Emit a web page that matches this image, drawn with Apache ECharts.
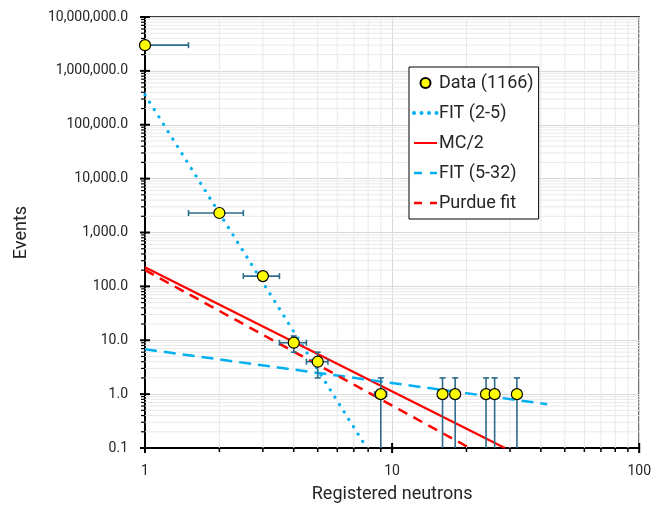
<!DOCTYPE html>
<html>
<head>
<meta charset="utf-8">
<script src="https://cdn.jsdelivr.net/npm/echarts@6/dist/echarts.min.js"></script>
<style>
html,body{margin:0;padding:0;background:#fff;}
#chart{width:654px;height:508px;}
</style>
</head>
<body>
<div id="chart"></div>
<script>
// ---- Data ----
const dataX = [1, 2, 3, 4, 5, 9, 16, 18, 24, 26, 32];
const dataY = [3000000, 2300, 155, 9, 4, 1, 1, 1, 1, 1, 1];
const xErrLow  = [0.5, 1.5, 2.5, 3.5, 4.5, 8.5, 15.5, 17.5, 23.5, 25.5, 31.5];
const xErrHigh = [1.5, 2.5, 3.5, 4.5, 5.5, 9.5, 16.5, 18.5, 24.5, 26.5, 32.5];
const yErrLow  = [2998000, 2252, 143, 6, 2, 0.01, 0.01, 0.01, 0.01, 0.01, 0.01];
const yErrHigh = [3002000, 2348, 167, 12, 6, 2, 2, 2, 2, 2, 2];

const fit25X = [1, 7.9];
const fit25Y = [360000, 0.1];
const mcX = [1, 28.6];
const mcY = [227, 0.1];
const fit532X = [1, 42.4];
const fit532Y = [6.8, 0.65];
const purdueX = [1, 20.6];
const purdueY = [200, 0.1];

const xMajorTicks = [1, 10, 100];
const yMajorTicks = [0.1, 1, 10, 100, 1000, 10000, 100000, 1000000, 10000000];
const minorMultipliers = [2, 3, 4, 5, 6, 7, 8, 9];
const xTickLabels = ['1', '10', '100'];

const seriesNames = ['Data (1166)', 'FIT (2-5)', 'MC/2', 'FIT (5-32)', 'Purdue fit'];

// ---- helpers ----
function pairs(xs, ys){ return xs.map((x,i)=>[x, ys[i]]); }
function fmtY(v){
  const s = Number(v).toFixed(1);
  const parts = s.split('.');
  return parts[0].replace(/\B(?=(\d{3})+(?!\d))/g, ',') + '.' + parts[1];
}
// axis decoration items: [xValue, yValue, kind] kind: 0 minorX, 1 minorY, 2 majorX, 3 majorY
const decor = [];
xMajorTicks.slice(0, -1).forEach(d => minorMultipliers.forEach(m => decor.push([d*m, 1, 0])));
yMajorTicks.slice(0, -1).forEach(d => minorMultipliers.forEach(m => decor.push([1, +(d*m).toPrecision(3), 1])));
xMajorTicks.forEach(v => decor.push([v, 1, 2]));
yMajorTicks.forEach(v => decor.push([1, v, 3]));

const errData = dataX.map((x,i)=>[x, dataY[i], xErrLow[i], xErrHigh[i], yErrLow[i], yErrHigh[i]]);

const FONT = 'Roboto, "Noto Sans", sans-serif';
const TXT = '#262626';
const chart = echarts.init(document.getElementById('chart'), null, {renderer:'canvas'});

const hiddenSym = {opacity: 0, borderWidth: 0};
const option = {
  animation: false,
  backgroundColor: '#fff',
  textStyle: {fontFamily: FONT},
  grid: {left: 145, right: 11, top: 17, bottom: 59, show: true, borderColor: '#000', borderWidth: 1.5, containLabel: false},
  legend: {
    data: [
      {name: seriesNames[0], icon: 'circle'},
      {name: seriesNames[1], itemStyle: hiddenSym, lineStyle: {width: 4, type: [0.01, 7.5], cap: 'round', color: '#00B0F0'}},
      {name: seriesNames[2], itemStyle: hiddenSym},
      {name: seriesNames[3], itemStyle: hiddenSym, lineStyle: {width: 2.5, type: [8, 8], color: '#00B0F0'}},
      {name: seriesNames[4], itemStyle: hiddenSym, lineStyle: {width: 2.5, type: [8, 8], color: '#FF0000'}}
    ],
    orient: 'vertical',
    left: 409, top: 67,
    backgroundColor: '#fff',
    borderColor: '#000', borderWidth: 1,
    padding: [6, 5, 6, 3],
    itemWidth: 23, itemHeight: 10, itemGap: 10,
    align: 'left',
    textStyle: {fontFamily: FONT, fontSize: 18, lineHeight: 20, color: TXT, padding: [0,0,0,-3]}
  },
  xAxis: {
    type: 'log', logBase: 10, min: 1, max: 100,
    name: 'Registered neutrons', nameLocation: 'middle', nameGap: 37,
    nameTextStyle: {fontFamily: FONT, fontSize: 18, color: TXT},
    axisLine: {show: true, lineStyle: {color: '#000', width: 2}},
    axisTick: {show: false},
    axisLabel: {fontFamily: FONT, fontSize: 14, color: TXT, margin: 16,
      formatter: v => { const i = xMajorTicks.findIndex(t => Math.abs(t - v) < 1e-6 * t); return i >= 0 ? xTickLabels[i] : ''; }},
    splitLine: {show: true, lineStyle: {color: '#d9d9d9', width: 1}}
  },
  yAxis: {
    type: 'log', logBase: 10, min: 0.1, max: 10000000,
    name: 'Events', nameLocation: 'middle', nameGap: 115,
    nameTextStyle: {fontFamily: FONT, fontSize: 18, color: TXT},
    axisLine: {show: true, lineStyle: {color: '#000', width: 2}},
    axisTick: {show: false},
    axisLabel: {fontFamily: FONT, fontSize: 14, color: TXT, margin: 17, formatter: fmtY},
    splitLine: {show: true, lineStyle: {color: '#d9d9d9', width: 1}}
  },
  series: [
    {
      name: 'axisDecor', type: 'custom', data: decor, z: 1, silent: true, clip: false,
      encode: {x: 0, y: 1},
      renderItem: function(params, api){
        const cs = params.coordSys;
        const kind = api.value(2);
        const children = [];
        if (kind === 0 || kind === 2) {
          const px = api.coord([api.value(0), 1])[0];
          const by = cs.y + cs.height;
          if (kind === 0) {
            children.push({type:'line', shape:{x1:px, y1:cs.y, x2:px, y2:by}, style:{stroke:'#e9e9e9', lineWidth:1}});
            children.push({type:'line', shape:{x1:px, y1:by, x2:px, y2:by+4}, style:{stroke:'#000', lineWidth:1.5}});
          } else {
            children.push({type:'line', shape:{x1:px, y1:by-5, x2:px, y2:by+5}, style:{stroke:'#000', lineWidth:2}});
          }
        } else {
          const py = api.coord([1, api.value(1)])[1];
          const lx = cs.x;
          if (kind === 1) {
            children.push({type:'line', shape:{x1:lx, y1:py, x2:cs.x+cs.width, y2:py}, style:{stroke:'#e9e9e9', lineWidth:1}});
            children.push({type:'line', shape:{x1:lx-4, y1:py, x2:lx, y2:py}, style:{stroke:'#000', lineWidth:1.2}});
          } else {
            children.push({type:'line', shape:{x1:lx-5, y1:py, x2:lx+5, y2:py}, style:{stroke:'#000', lineWidth:2}});
          }
        }
        return {type:'group', children: children};
      }
    },
    {
      name: seriesNames[1], type: 'line', data: pairs(fit25X, fit25Y), symbol: 'none', z: 3,
      lineStyle: {color: '#00B0F0', width: 3.2, type: [0.01, 8.7], cap: 'round'},
      itemStyle: {color: '#00B0F0'}
    },
    {
      name: seriesNames[2], type: 'line', data: pairs(mcX, mcY), symbol: 'none', z: 3,
      lineStyle: {color: '#FF0000', width: 2.2, type: 'solid'},
      itemStyle: {color: '#FF0000'}
    },
    {
      name: seriesNames[3], type: 'line', data: pairs(fit532X, fit532Y), symbol: 'none', z: 3,
      lineStyle: {color: '#00B0F0', width: 2.5, type: [12, 7]},
      itemStyle: {color: '#00B0F0'}
    },
    {
      name: seriesNames[4], type: 'line', data: pairs(purdueX, purdueY), symbol: 'none', z: 3,
      lineStyle: {color: '#FF0000', width: 2.5, type: [10, 7]},
      itemStyle: {color: '#FF0000'}
    },
    {
      name: 'errorBars', type: 'custom', data: errData, z: 4, clip: true, silent: true,
      encode: {x: 0, y: 1},
      renderItem: function(params, api){
        const x = api.value(0), y = api.value(1);
        const pL = api.coord([api.value(2), y]);
        const pR = api.coord([api.value(3), y]);
        const pB = api.coord([x, api.value(4)]);
        const pT = api.coord([x, api.value(5)]);
        const st = {stroke: '#2D6B8A', lineWidth: 1.6};
        const c = 3;
        return {type:'group', children:[
          {type:'line', shape:{x1:pL[0], y1:pL[1], x2:pR[0], y2:pR[1]}, style:st},
          {type:'line', shape:{x1:pL[0], y1:pL[1]-c, x2:pL[0], y2:pL[1]+c}, style:st},
          {type:'line', shape:{x1:pR[0], y1:pR[1]-c, x2:pR[0], y2:pR[1]+c}, style:st},
          {type:'line', shape:{x1:pB[0], y1:pB[1], x2:pT[0], y2:pT[1]}, style:st},
          {type:'line', shape:{x1:pT[0]-c, y1:pT[1], x2:pT[0]+c, y2:pT[1]}, style:st},
          {type:'line', shape:{x1:pB[0]-c, y1:pB[1], x2:pB[0]+c, y2:pB[1]}, style:st}
        ]};
      }
    },
    {
      name: seriesNames[0], type: 'scatter', data: pairs(dataX, dataY), z: 5,
      symbol: 'circle', symbolSize: 11,
      itemStyle: {color: '#FFFF00', borderColor: '#000', borderWidth: 1.2, opacity: 1}
    }
  ]
};
chart.setOption(option);
</script>
</body>
</html>
